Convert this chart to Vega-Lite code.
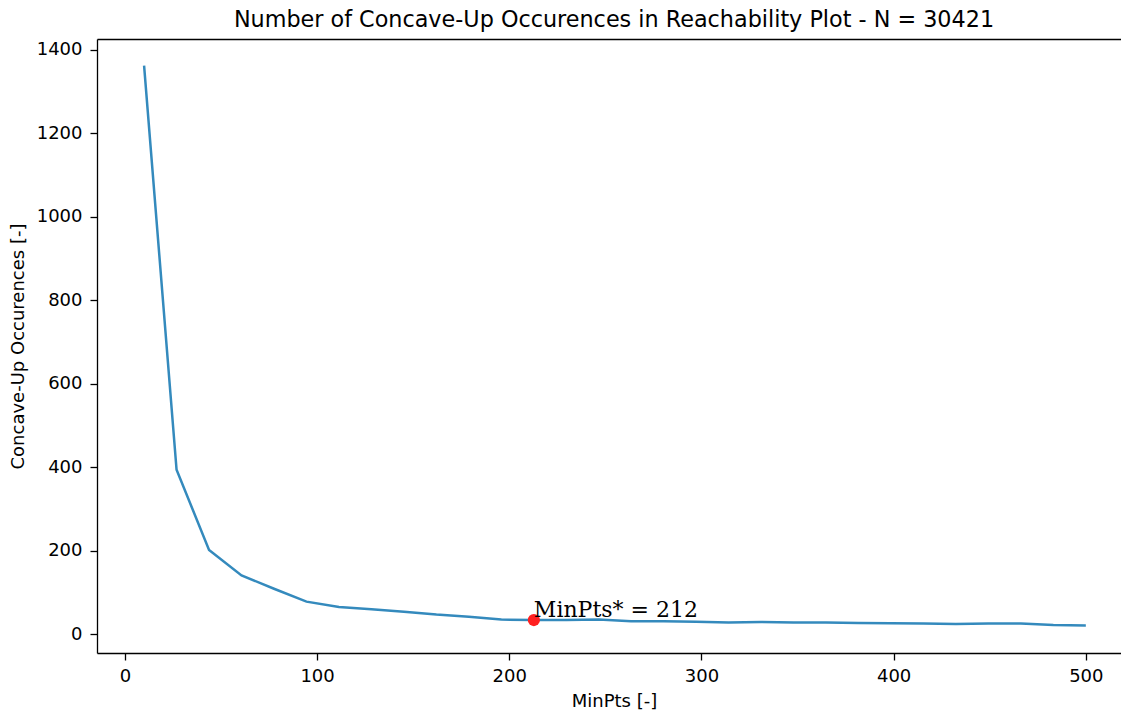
{
  "$schema": "https://vega.github.io/schema/vega-lite/v6.json",
  "autosize": {"type": "none"},
  "padding": {"left": 97, "top": 39, "right": 0, "bottom": 58},
  "width": 1024,
  "height": 614,
  "background": "white",
  "title": {
    "text": "Number of Concave-Up Occurences in Reachability Plot - N = 30421",
    "font": "DejaVu Sans",
    "fontSize": 22.3,
    "fontWeight": "normal",
    "color": "#000000",
    "anchor": "middle",
    "dx": 5,
    "offset": 8
  },
  "config": {
    "view": {"stroke": null},
    "axis": {
      "grid": false,
      "domainColor": "#000000",
      "domainWidth": 1.3,
      "tickColor": "#000000",
      "tickWidth": 1.3,
      "tickSize": 7,
      "labelFont": "DejaVu Sans",
      "labelFontSize": 18,
      "labelColor": "#000000",
      "labelPadding": 7,
      "labelFlush": false,
      "titleFont": "DejaVu Sans",
      "titleFontSize": 18,
      "titleFontWeight": "normal",
      "titleColor": "#000000"
    }
  },
  "datasets": {
    "curve": [
      {"minpts": 10, "count": 1362},
      {"minpts": 26.9, "count": 394},
      {"minpts": 43.8, "count": 202},
      {"minpts": 60.7, "count": 141},
      {"minpts": 77.6, "count": 109},
      {"minpts": 94.5, "count": 78},
      {"minpts": 111.4, "count": 65},
      {"minpts": 128.3, "count": 60},
      {"minpts": 145.2, "count": 54},
      {"minpts": 162.1, "count": 47},
      {"minpts": 179.0, "count": 42},
      {"minpts": 195.9, "count": 35},
      {"minpts": 212.8, "count": 34},
      {"minpts": 229.7, "count": 34},
      {"minpts": 246.6, "count": 35},
      {"minpts": 263.4, "count": 31},
      {"minpts": 280.3, "count": 31},
      {"minpts": 297.2, "count": 30},
      {"minpts": 314.1, "count": 28},
      {"minpts": 331.0, "count": 29.5},
      {"minpts": 347.9, "count": 28},
      {"minpts": 364.8, "count": 28},
      {"minpts": 381.7, "count": 27},
      {"minpts": 398.6, "count": 26},
      {"minpts": 415.5, "count": 25.5},
      {"minpts": 432.4, "count": 24.5},
      {"minpts": 449.3, "count": 25.5},
      {"minpts": 466.2, "count": 25.5},
      {"minpts": 483.1, "count": 22},
      {"minpts": 500, "count": 21}
    ],
    "star": [
      {"minpts": 212.8, "count": 34, "label": "MinPts* = 212"}
    ]
  },
  "resolve": {"axis": {"x": "independent"}},
  "layer": [
    {
      "data": {"name": "curve"},
      "mark": {"type": "line", "color": "#348ABD", "strokeWidth": 2.5},
      "encoding": {
        "x": {
          "field": "minpts",
          "type": "quantitative",
          "scale": {"domain": [-14.5, 518.3], "nice": false, "zero": false},
          "axis": {"orient": "bottom", "values": [0, 100, 200, 300, 400, 500], "format": "d", "title": "MinPts [-]", "titleX": 517, "titlePadding": 7}
        },
        "y": {
          "field": "count",
          "type": "quantitative",
          "scale": {"domain": [-45, 1426], "nice": false, "zero": false},
          "axis": {"values": [0, 200, 400, 600, 800, 1000, 1200, 1400], "format": "d", "title": "Concave-Up Occurences [-]", "titlePadding": 9, "labelPadding": 8}
        }
      }
    },
    {
      "data": {"name": "star"},
      "mark": {"type": "point", "filled": true, "color": "#FF2020", "size": 150, "opacity": 1},
      "encoding": {
        "x": {
          "field": "minpts",
          "type": "quantitative",
          "axis": {"orient": "top", "labels": false, "ticks": false, "title": null, "domain": true}
        },
        "y": {"field": "count", "type": "quantitative"}
      }
    },
    {
      "data": {"name": "star"},
      "mark": {"type": "text", "font": "DejaVu Serif", "fontSize": 22, "align": "left", "baseline": "alphabetic", "dx": 0, "dy": -3, "color": "#000000"},
      "encoding": {
        "x": {"field": "minpts", "type": "quantitative", "axis": null},
        "y": {"field": "count", "type": "quantitative"},
        "text": {"field": "label"}
      }
    }
  ]
}
